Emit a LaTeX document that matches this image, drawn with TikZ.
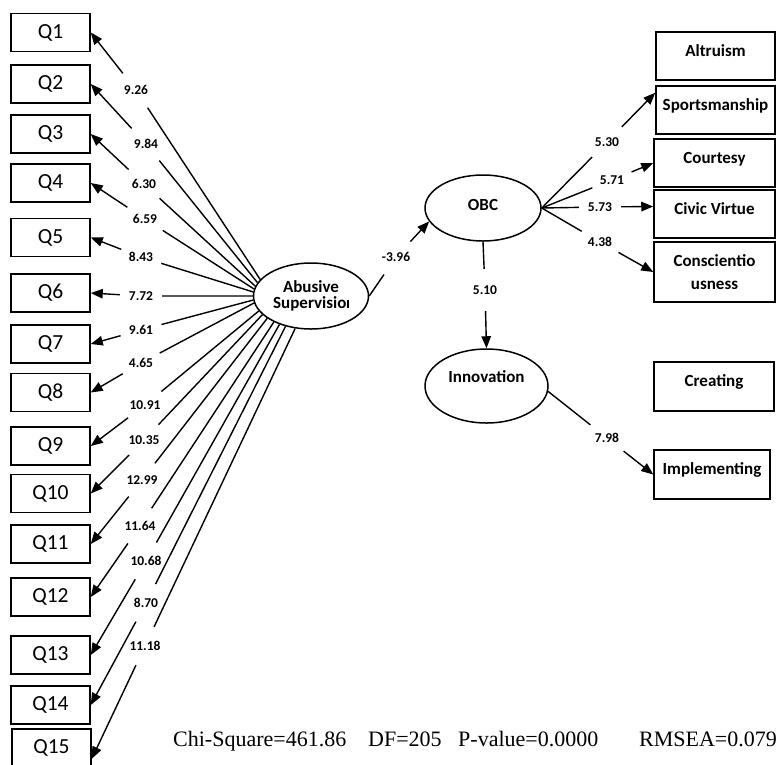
\documentclass[tikz,border=0pt]{standalone}
\usepackage{fontspec}
\setmainfont{Liberation Serif}
\newfontfamily\calibri{Carlito}
\usepackage{tikz}
\usetikzlibrary{shapes,arrows.meta}

\begin{document}
\begin{tikzpicture}[x=1pt,y=-1pt,
        qbox/.style={draw,line width=1.5pt,minimum width=79pt,minimum height=38pt,inner sep=0pt,font=\calibri\fontsize{21.5}{24}\selectfont},
        rbox/.style={draw,line width=1.5pt,minimum height=48pt,inner sep=0pt,text height=12pt,text depth=12pt,font=\calibri\bfseries\fontsize{17}{23}\selectfont},
        latent/.style={draw,ellipse,line width=1.5pt,inner sep=0pt,align=center,font=\calibri\bfseries\fontsize{17}{15.5}\selectfont},
        val/.style={circle,inner sep=0pt,minimum size=42pt,font=\calibri\bfseries\fontsize{13.5}{15}\selectfont},
        stat/.style={anchor=base west,inner sep=0pt,font=\fontsize{22}{26}\selectfont},
        arr/.style={line width=1.4pt,-{Triangle[length=12pt,width=9.5pt]}}]
        \useasboundingbox (0,0) rectangle (776,764);
        \node[latent,minimum width=115pt,minimum height=66pt] (AS) at (311,296) {Abusive\\Supervisio\kern.5pt\rule{1.8pt}{8pt}};
        \node[latent,minimum width=116pt,minimum height=66pt] (OBC) at (483,208) {\raisebox{6pt}{OBC}};
        \node[latent,minimum width=123pt,minimum height=74pt] (INN) at (486.5,386) {\raisebox{19pt}{Innovation}};

        \node[qbox] (Q1) at (50.5,32.5) {Q1};
        \node[qbox] (Q2) at (50.5,84) {Q2};
        \node[qbox] (Q3) at (50.5,134) {Q3};
        \node[qbox] (Q4) at (50.5,183) {Q4};
        \node[qbox] (Q5) at (50.5,237.5) {Q5};
        \node[qbox] (Q6) at (50.5,293) {Q6};
        \node[qbox] (Q7) at (50.5,344) {Q7};
        \node[qbox] (Q8) at (50.5,392.5) {Q8};
        \node[qbox] (Q9) at (50.5,446) {Q9};
        \node[qbox] (Q10) at (50.5,493.5) {Q10};
        \node[qbox] (Q11) at (50.5,544) {Q11};
        \node[qbox] (Q12) at (50.5,597) {Q12};
        \node[qbox] (Q13) at (50.5,655) {Q13};
        \node[qbox] (Q14) at (50.5,705) {Q14};
        \node[qbox] (Q15) at (51.5,748) {Q15};

        \node[val] (v1) at (136,90) {9.26};
        \node[val] (v2) at (146,144) {9.84};
        \node[val] (v3) at (144,184) {6.30};
        \node[val] (v4) at (145,219) {6.59};
        \node[val] (v5) at (141,257) {8.43};
        \node[val] (v6) at (141,296) {7.72};
        \node[val] (v7) at (141,330) {9.61};
        \node[val] (v8) at (141,363) {4.65};
        \node[val] (v9) at (145,405) {10.91};
        \node[val] (v10) at (144,440) {10.35};
        \node[val] (v11) at (142,480) {12.99};
        \node[val] (v12) at (140,526) {11.64};
        \node[val] (v13) at (146,561) {10.68};
        \node[val] (v14) at (146,603) {8.70};
        \node[val] (v15) at (145,646) {11.18};

        \draw[arr] (AS.162) -- (v1) (v1) -- (Q1.east);
        \draw[arr] (AS.166) -- (v2) (v2) -- (Q2.east);
        \draw[arr] (AS.170) -- (v3) (v3) -- (Q3.east);
        \draw[arr] (AS.173) -- (v4) (v4) -- (Q4.east);
        \draw[arr] (AS.176) -- (v5) (v5) -- (Q5.east);
        \draw[arr] (AS.180) -- (v6) (v6) -- (Q6.east);
        \draw[arr] (AS.184) -- (v7) (v7) -- (Q7.east);
        \draw[arr] (AS.187) -- (v8) (v8) -- (Q8.east);
        \draw[arr] (AS.196) -- (v9) (v9) -- (Q9.east);
        \draw[arr] (AS.201) -- (v10) (v10) -- (Q10.east);
        \draw[arr] (AS.207) -- (v11) (v11) -- (Q11.east);
        \draw[arr] (AS.215) -- (v12) (v12) -- (Q12.east);
        \draw[arr] (AS.222) -- (v13) (v13) -- (Q13.east);
        \draw[arr] (AS.230) -- (v14) (v14) -- (Q14.east);
        \draw[arr] (AS.244) -- (v15) (v15) -- (Q15.-15);

        \node[rbox,minimum width=119pt] (ALT) at (715.5,56) {Altruism};
        \node[rbox,minimum width=119pt] (SPO) at (715.5,110) {Sportsmanship};
        \node[rbox,minimum width=121pt] (COU) at (714.5,163) {Courtesy};
        \node[rbox,minimum width=121pt] (CIV) at (714.5,214) {Civic Virtue};
        \node[rbox,minimum width=121pt,minimum height=60pt,text height=,text depth=,align=center] (CON) at (714.5,272) {Conscientio\\usness};
        \node[rbox,minimum width=120pt,minimum height=49pt] (CRE) at (714,386.5) {Creating};
        \node[rbox,minimum width=116pt,minimum height=49pt] (IMP) at (712,474.5) {Implementing};

        \node[val] (vobc) at (396,257) {-3.96};
        \node[val] (vinn) at (485,290) {5.10};
        \node[val] (vspo) at (607,142) {5.30};
        \node[val] (vcou) at (612,180) {5.71};
        \node[val] (vciv) at (600,207) {5.73};
        \node[val] (vcon) at (600,242) {4.38};
        \node[val] (vimp) at (607,438) {7.98};

        \draw[arr] (AS.east) -- (vobc) (vobc) -- (OBC.194);
        \draw[arr] (OBC.south) -- (vinn) (vinn) -- (INN.north);
        \draw[arr] (OBC.east) -- (vspo) (vspo) -- (SPO.164);
        \draw[arr] (OBC.east) -- (vcou) (vcou) -- (COU.west);
        \draw[arr] (OBC.east) -- (vciv) (vciv) -- (CIV.173);
        \draw[arr] (OBC.east) -- (vcon) (vcon) -- (CON.west);
        \draw[arr] (INN.-5) -- (vimp) (vimp) -- (IMP.west);

        \node[stat] (chi) at (173,746) {Chi-Square=461.86};
        \node[stat] (df) at (368,746) {DF=205};
        \node[stat] (pval) at (458,746) {P-value=0.0000};
        \node[stat] (rmsea) at (639,746) {RMSEA=0.079};
\end{tikzpicture}
\end{document}
